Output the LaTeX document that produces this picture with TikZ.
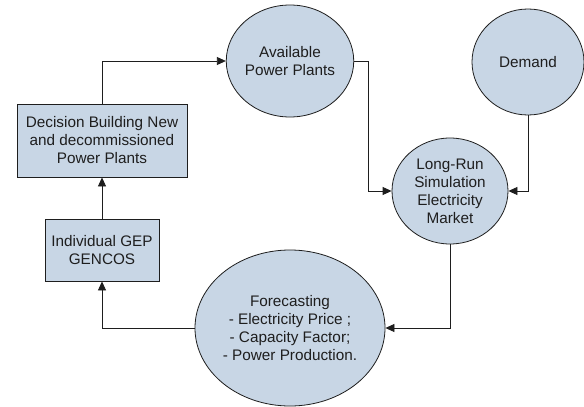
\documentclass[tikz,border=0pt]{standalone}
\usepackage{fontspec}
\setmainfont{Liberation Sans}
\usetikzlibrary{arrows.meta,shapes.geometric}
\definecolor{nodefill}{HTML}{C8D6E5}
\definecolor{inkgray}{HTML}{1E1E1E}
\begin{document}
\begin{tikzpicture}[x=1pt,y=-1pt,
  every node/.style={font=\fontsize{15.3}{18}\selectfont, text=inkgray, align=center, inner sep=0pt},
  bubble/.style={ellipse, draw=inkgray, line width=0.8pt, fill=nodefill},
  panel/.style={rectangle, draw=inkgray, line width=0.8pt, fill=nodefill},
  link/.style={draw=inkgray, line width=0.8pt, -{Triangle[length=9pt,width=8pt]}}]
  \useasboundingbox (0,0) rectangle (584,407);
  % round process nodes
  \node[bubble, minimum width=116pt, minimum height=112pt] (avail) at (290,61) {Available\\Power Plants};
  \node[bubble, minimum width=112pt, minimum height=106pt] (demand) at (528,62) {Demand};
  \node[bubble, minimum width=116pt, minimum height=106pt] (market) at (450,191) {Long-Run\\Simulation\\Electricity\\Market};
  \node[bubble, minimum width=176pt, minimum height=156pt] (forecast) at (290,328) {Forecasting\\- Electricity Price ;\\- Capacity Factor;\\- Power Production.};
  % rectangular decision nodes
  \node[panel, minimum width=170pt, minimum height=73pt] (decide) at (102,140.5) {Decision Building New\\and decommissioned\\Power Plants};
  \node[panel, minimum width=114pt, minimum height=62pt] (gep) at (102,250) {Individual GEP\\GENCOS};
  % connectors
  \coordinate (ra) at (368,61);
  \draw[link] (avail.east) -- (ra) |- (market.west);
  \draw[link] (demand.south) |- (market.east);
  \draw[link] (market.south) |- (forecast.east);
  \draw[link] (forecast.west) -| (gep.south);
  \draw[link] (gep.north) -- (decide.south);
  \draw[link] (decide.north) |- (avail.west);
\end{tikzpicture}
\end{document}
